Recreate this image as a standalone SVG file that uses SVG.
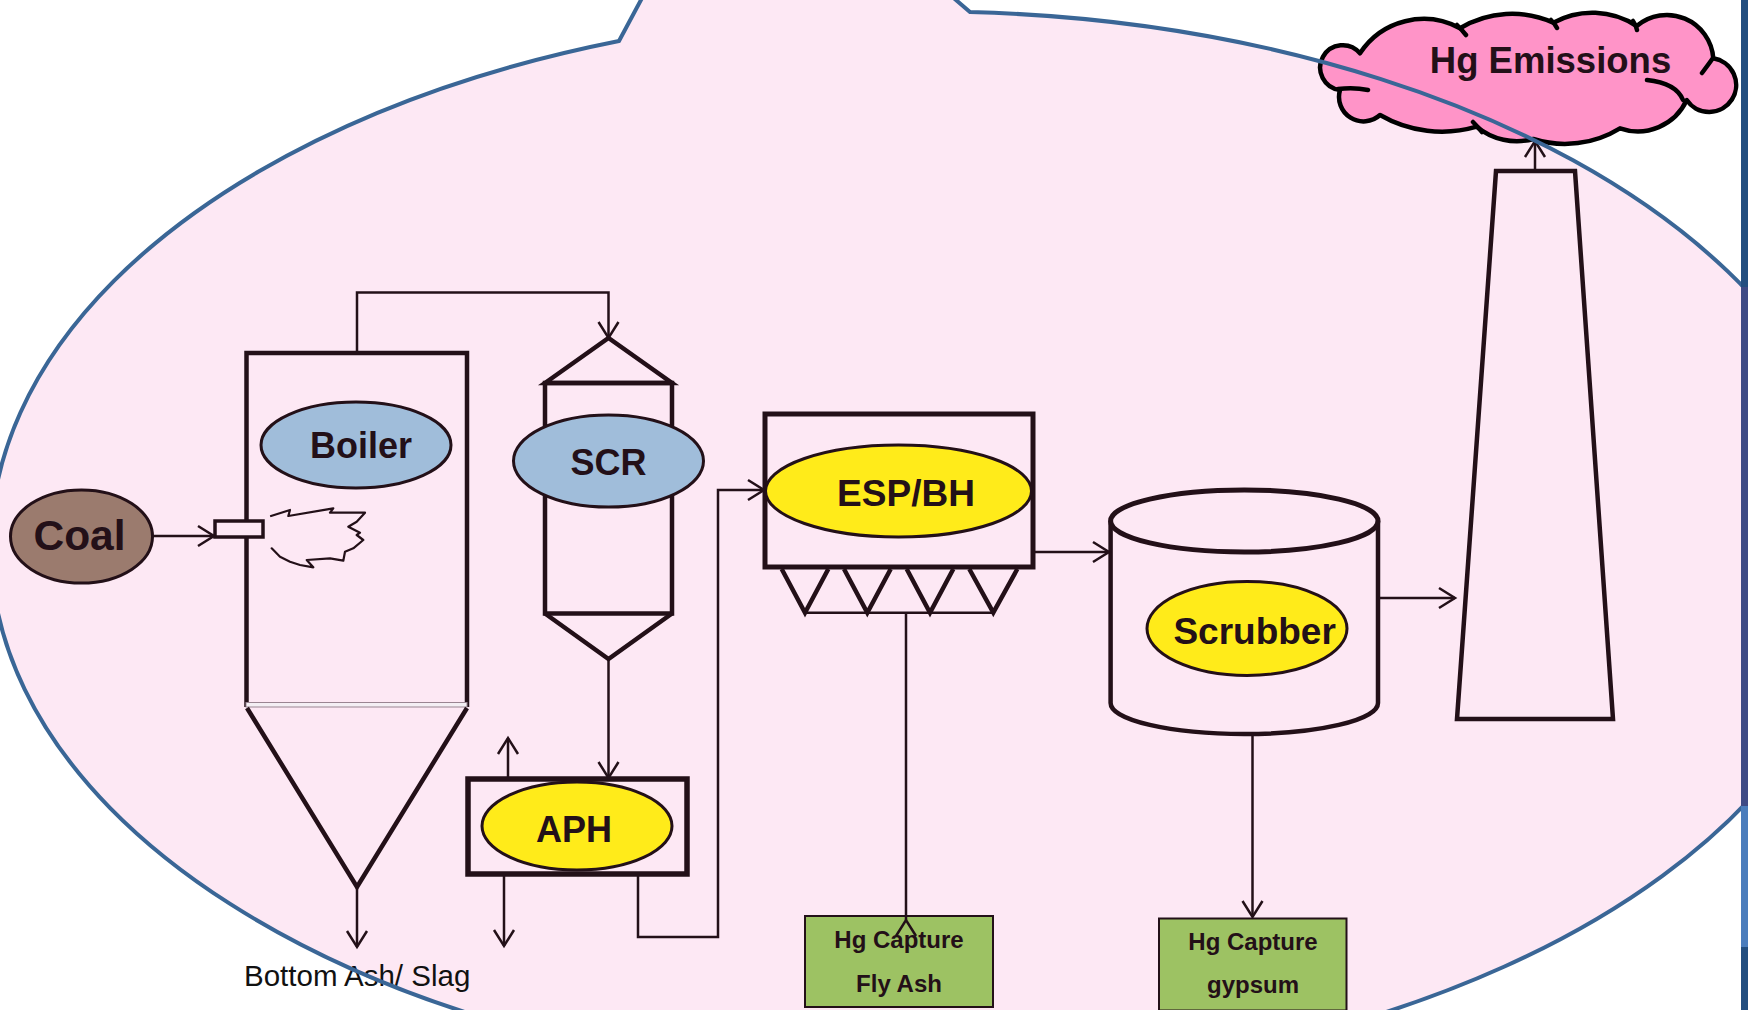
<svg xmlns="http://www.w3.org/2000/svg" width="1748" height="1010" viewBox="0 0 1748 1010">
<defs>
<style>
.thick{fill:none;stroke:#231018;stroke-width:4.5;stroke-linejoin:miter}
.thin{fill:none;stroke:#231018;stroke-width:2.5}
.lbl{font-family:"Liberation Sans",Arial,sans-serif;font-weight:bold;fill:#231018;text-anchor:middle}
.blue{fill:#A0BDDA;stroke:#231018;stroke-width:3}
.yel{fill:#FFEB1A;stroke:#231018;stroke-width:3}
.box{fill:#9DC263;stroke:#231018;stroke-width:2}
</style>
<marker id="arr" viewBox="0 0 20 24" refX="17" refY="12" markerWidth="20" markerHeight="24" markerUnits="userSpaceOnUse" orient="auto" overflow="visible">
<path d="M1,2 L17,12 L1,22" fill="none" stroke="#231018" stroke-width="2.5"/>
</marker>
</defs>
<rect x="0" y="0" width="1748" height="1010" fill="#FFFFFF"/>
<path id="bubble-fill" d="M619,41 L740,-185 L970,12 A935,535 0 1 1 619,41 Z" fill="#FDE8F4"/>

<g id="coal">
<ellipse cx="81.5" cy="536.5" rx="71" ry="46.5" fill="#9B7B6E" stroke="#231018" stroke-width="3"/>
<text class="lbl" x="79.5" y="550" font-size="42.5">Coal</text>
</g>

<g id="boiler">
<path class="thick" d="M246.5,707 V353 H467 V707"/>
<rect x="246" y="702.5" width="221" height="4.5" fill="#F4EFF4" stroke="#9A8592" stroke-width="1"/>
<path class="thick" d="M247,708 L357,887 L467,708"/>
<rect x="215" y="521" width="48" height="16" fill="#FDE8F4" stroke="#231018" stroke-width="3.5"/>
<path d="M271,516 L290,510 L288.3,516 L333.3,508.3 L330,512.7 L365,512.7 L356.7,521.7 L348.3,526.7 L360,532.7 L356.7,535 L363.3,540 L353.3,548.3 L345,551.7 L343.3,560.7 L330,558.3 L306.7,560 L313.3,567.3 L300,565 L290,561.7 L280,556.7 L271.7,548.3" fill="none" stroke="#231018" stroke-width="2.2" stroke-linejoin="round" stroke-linecap="round"/>
<ellipse class="blue" cx="356" cy="445" rx="95" ry="43"/>
<text class="lbl" x="361" y="458" font-size="36">Boiler</text>
</g>

<g id="scr">
<path class="thick" d="M545,383 L608.5,338 L672,383 Z"/>
<rect class="thick" x="545" y="383" width="127" height="230.5"/>
<path class="thick" d="M545,613.5 L608.5,659 L672,613.5"/>
<ellipse class="blue" cx="608.5" cy="461" rx="95" ry="46"/>
<text class="lbl" x="608.5" y="475" font-size="36">SCR</text>
</g>

<g id="aph">
<rect x="468" y="779" width="219" height="95" fill="none" stroke="#231018" stroke-width="5.5"/>
<ellipse class="yel" cx="577" cy="826" rx="95" ry="44"/>
<text class="lbl" x="574" y="842" font-size="36">APH</text>
</g>

<g id="esp">
<rect x="765" y="414" width="268" height="153" fill="none" stroke="#231018" stroke-width="5"/>
<path class="thick" d="M781.7,569 L805,612.7 L828.3,569 M844,569 L867.3,612.7 L890.7,569 M906.7,569 L930,612.7 L953.3,569 M969.3,569 L993.3,612.7 L1017.3,569" stroke-width="4"/>
<path class="thin" d="M805,612.7 H993.3"/>
<ellipse class="yel" cx="898.5" cy="491" rx="133" ry="46"/>
<text class="lbl" x="906" y="506" font-size="37">ESP/BH</text>
</g>

<g id="flyash">
<rect class="box" x="805" y="916" width="188" height="91"/>
<text class="lbl" x="899" y="948" font-size="24">Hg Capture</text>
<text class="lbl" x="899" y="992" font-size="24">Fly Ash</text>
</g>

<g id="scrubber">
<path class="thick" d="M1110.6,521 V703 A133.7,31 0 0 0 1378,703 V521" stroke-width="5"/>
<ellipse cx="1244.3" cy="521" rx="133.7" ry="31" fill="none" stroke="#231018" stroke-width="5"/>
<ellipse class="yel" cx="1247" cy="628.4" rx="100" ry="47"/>
<text class="lbl" x="1254.6" y="644" font-size="37">Scrubber</text>
</g>

<g id="gypsum">
<rect class="box" x="1159" y="918.5" width="187.5" height="92"/>
<text class="lbl" x="1253" y="950" font-size="24">Hg Capture</text>
<text class="lbl" x="1253" y="993" font-size="24">gypsum</text>
</g>

<g id="stack">
<path class="thick" d="M1496,171 L1575,171 L1613,719 L1457,719 Z"/>
</g>

<g id="emissions">
<path d="M1340,90 A22.5,22.5 0 1 1 1360,53.3 A76,76 0 0 1 1460,28.3 A100.6,100.6 0 0 1 1553.3,22.7 A80.8,80.8 0 0 1 1636.7,26 A46.6,46.6 0 0 1 1713.3,58.3 A27,27 0 1 1 1686.7,100 A53.8,53.8 0 0 1 1620,128.3 A105,105 0 0 1 1533.3,139 A63,63 0 0 1 1476.7,126.7 A123.6,123.6 0 0 1 1380,115 A24.5,24.5 0 0 1 1340,90 Z" fill="#FF94C8" stroke="#000000" stroke-width="4.5" stroke-linejoin="round"/>
<path d="M1338,89 Q1354,87 1368,90 M1457,25 Q1462,30 1466,35 M1551,20 Q1555,24 1557,28 M1633,21 Q1636,25 1637,30 M1702,73 Q1708,65 1713,58 M1647,80 Q1676,83 1683,100 M1473,122 Q1478,127 1482,132" fill="none" stroke="#000000" stroke-width="4.5" stroke-linecap="round"/>
<text class="lbl" x="1550.5" y="72.7" font-size="36.5" fill="#000000">Hg Emissions</text>
</g>

<g id="connectors">
<path class="thin" d="M153,536 H214" marker-end="url(#arr)"/>
<path class="thin" d="M357,353 V292.5 H608.5 V338" marker-end="url(#arr)"/>
<path class="thin" d="M608.5,659 V778" marker-end="url(#arr)"/>
<path class="thin" d="M508,779 V738" marker-end="url(#arr)"/>
<path class="thin" d="M504,874 V946" marker-end="url(#arr)"/>
<path class="thin" d="M357,887 V947" marker-end="url(#arr)"/>
<path class="thin" d="M638,874 V937 H718 V490 H764" marker-end="url(#arr)"/>
<path class="thin" d="M906,920 V613" marker-start="url(#arr)"/>
<path class="thin" d="M1033,552 H1109" marker-end="url(#arr)"/>
<path class="thin" d="M1378,598 H1455" marker-end="url(#arr)"/>
<path class="thin" d="M1252.5,734 V917" marker-end="url(#arr)"/>
<path class="thin" d="M1535,171 V141" marker-end="url(#arr)"/>
</g>

<text x="244" y="986" font-family="'Liberation Sans',Arial,sans-serif" font-size="29.5" fill="#111111">Bottom Ash/ Slag</text>

<path id="bubble-outline" d="M619,41 L740,-185 L970,12 A935,535 0 1 1 619,41 Z" fill="none" stroke="#3A6696" stroke-width="4"/>

<g id="edge-bar">
<rect x="1741" y="0" width="7" height="287" fill="#234E7F"/>
<rect x="1741" y="287" width="7" height="519" fill="#3F4A85"/>
<rect x="1741" y="806" width="7" height="141" fill="#4B7DBC"/>
<rect x="1741" y="947" width="7" height="63" fill="#234E7F"/>
</g>
</svg>
